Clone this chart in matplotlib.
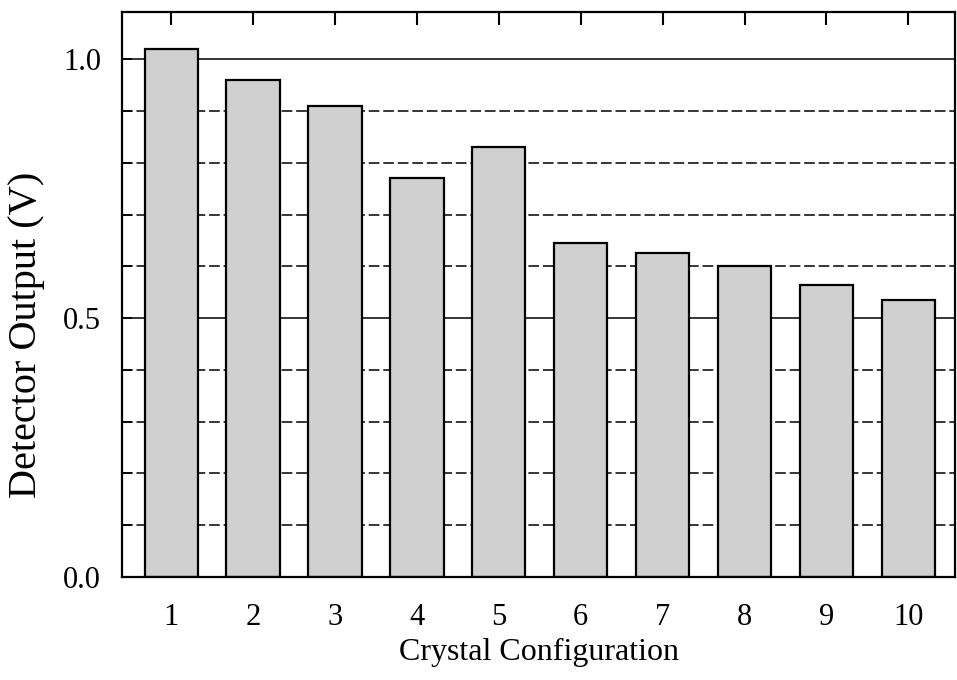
import numpy as np
import matplotlib.pyplot as plt

plt.rcParams['font.family'] = ['Liberation Serif', 'DejaVu Serif']

# detector output for each crystal configuration
configs = [1, 2, 3, 4, 5, 6, 7, 8, 9, 10]
output_v = [1.02, 0.96, 0.91, 0.77, 0.83, 0.645, 0.625, 0.60, 0.565, 0.535]

fig = plt.figure(figsize=(9.57, 6.8), dpi=100)
ax = fig.add_axes([0.1275, 0.1515, 0.8705, 0.8305])

# horizontal guide lines: solid at the labelled values, dashed in between
for level in np.round(np.arange(0.1, 1.01, 0.1), 1):
    if level in (0.5, 1.0):
        ax.axhline(level, color='black', lw=1.1, zorder=0)
    else:
        ax.axhline(level, color='black', lw=1.1, ls=(0, (7, 2.5)), zorder=0)

ax.bar(configs, output_v, width=0.65, color='#d0d0d0',
       edgecolor='black', linewidth=1.6, zorder=2)

ax.set_xlim(0.4, 10.57)
ax.set_ylim(0, 1.091)
ax.set_xticks(configs)
ax.set_yticks([0.0, 0.5, 1.0])
ax.set_yticks(np.arange(0.1, 1.0, 0.1), minor=True)

ax.tick_params(axis='x', direction='in', top=True, bottom=False, length=9,
               width=1.5, labelsize=22, pad=19)
ax.tick_params(axis='y', which='both', direction='in', left=True,
               right=False, length=7, width=1.2, labelsize=22, pad=15)
for side in ax.spines.values():
    side.set_linewidth(1.6)

ax.set_xlabel('Crystal Configuration', fontsize=23, labelpad=4)
ax.set_ylabel('Detector Output (V)', fontsize=29)
ax.yaxis.set_label_coords(-0.092, 0.428)

fig.savefig('out.png', dpi=100)
